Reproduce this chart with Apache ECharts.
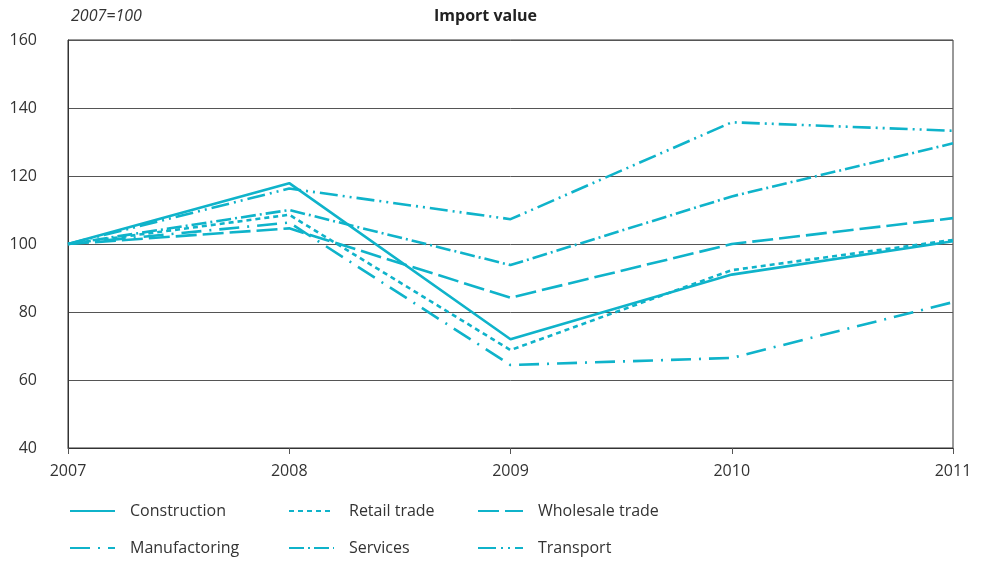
<!DOCTYPE html>
<html>
<head>
<meta charset="utf-8">
<script src="https://cdn.jsdelivr.net/npm/echarts@6/dist/echarts.min.js"></script>
<style>
  html, body { margin: 0; padding: 0; background: #fff; }
  #chart { width: 984px; height: 562px; }
</style>
</head>
<body>
<div id="chart"></div>
<script>
// Import value index by sector, 2007 = 100
const years = ['2007', '2008', '2009', '2010', '2011'];
const construction  = [100, 117.9, 72.0, 91.0, 100.8];
const retailTrade   = [100, 108.6, 68.8, 92.3, 101.2];
const wholesale     = [100, 104.6, 84.2, 100.0, 107.6];
const manufacturing = [100, 106.3, 64.4, 66.5, 82.9];
const services      = [100, 110.0, 93.8, 114.0, 129.6];
const transport     = [100, 116.3, 107.3, 135.8, 133.3];

const FONT = '"Open Sans", "Noto Sans", sans-serif';
const COLOR = '#0fb3ca';

const seriesDefs = [
  { name: 'Construction',    data: construction,  dash: 'solid' },
  { name: 'Retail trade',    data: retailTrade,   dash: [5, 4] },
  { name: 'Wholesale trade', data: wholesale,     dash: [21, 6] },
  { name: 'Manufactoring',   data: manufacturing, dash: [20, 8, 2, 8] },
  { name: 'Services',        data: services,      dash: [15, 4, 2, 4] },
  { name: 'Transport',       data: transport,     dash: [18, 5, 2, 5, 2, 5] }
];

// legend placement: three columns, two rows
const legendSpots = [
  { left: 69,  top: 503 }, { left: 288, top: 503 }, { left: 477, top: 503 },
  { left: 69,  top: 540 }, { left: 288, top: 540 }, { left: 477, top: 540 }
];

const chart = echarts.init(document.getElementById('chart'), null, { renderer: 'canvas' });

chart.setOption({
  animation: false,
  backgroundColor: '#fff',
  textStyle: { fontFamily: FONT },
  title: [
    { text: 'Import value', left: 429, top: 3,
      textStyle: { fontFamily: FONT, fontSize: 16, fontWeight: 'bold', color: '#222' } },
    { text: '2007=100', left: 66, top: 3,
      textStyle: { fontFamily: FONT, fontSize: 16, fontWeight: 'normal', fontStyle: 'italic', color: '#333' } }
  ],
  grid: {
    left: 68, right: 31, top: 40, bottom: 114,
    show: true, borderColor: '#333', borderWidth: 1, backgroundColor: 'transparent'
  },
  legend: seriesDefs.map((s, i) => ({
    data: [s.name],
    left: legendSpots[i].left,
    top: legendSpots[i].top,
    padding: 0,
    itemWidth: 45,
    itemHeight: 18,
    itemStyle: { opacity: 0 },
    textStyle: { fontFamily: FONT, fontSize: 16, color: '#333', padding: [0, 0, 0, 10] }
  })),
  xAxis: {
    type: 'category',
    data: years,
    boundaryGap: false,
    axisLine: { show: true, lineStyle: { color: '#333', width: 1 } },
    axisTick: { show: true, alignWithLabel: true, length: 6, lineStyle: { color: '#555' } },
    axisLabel: { fontFamily: FONT, fontSize: 16, color: '#333', margin: 15 },
    splitLine: { show: false }
  },
  yAxis: {
    type: 'value',
    min: 40, max: 160, interval: 20,
    axisLine: { show: true, lineStyle: { color: '#333' } },
    axisTick: { show: false },
    axisLabel: { fontFamily: FONT, fontSize: 16, color: '#333', margin: 31 },
    splitLine: { show: true, lineStyle: { color: '#555', width: 1 } }
  },
  series: seriesDefs.map(s => ({
    name: s.name,
    type: 'line',
    data: s.data,
    symbol: 'none',
    color: COLOR,
    lineStyle: { color: COLOR, width: 2.6, type: s.dash, cap: 'butt' },
    emphasis: { disabled: true }
  }))
});
</script>
</body>
</html>
